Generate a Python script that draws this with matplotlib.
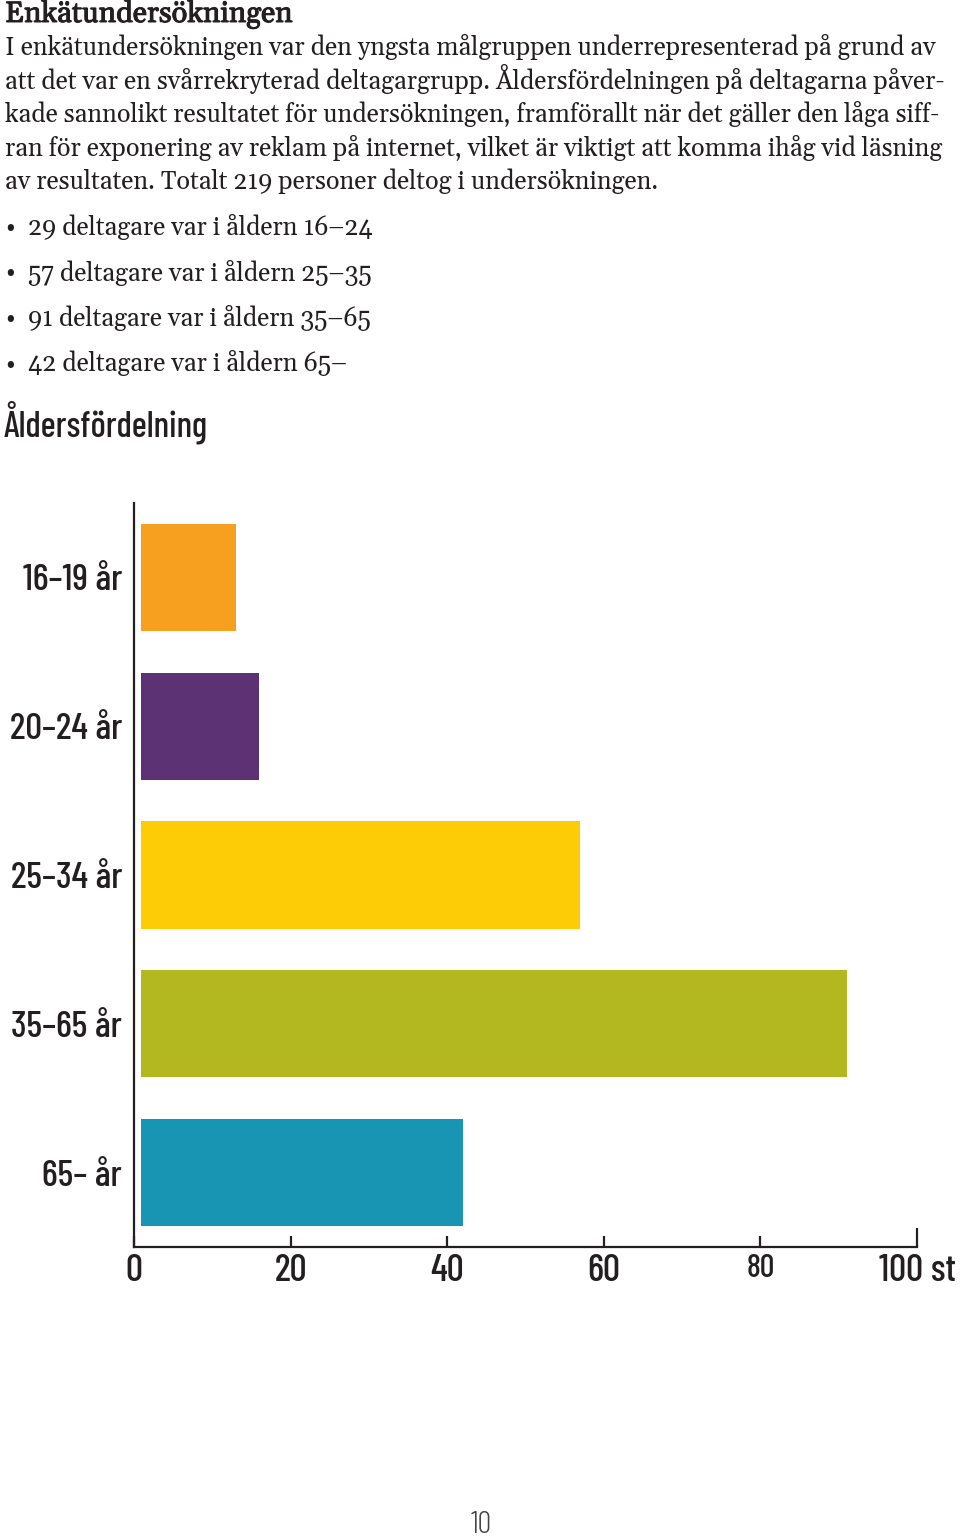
import matplotlib
matplotlib.use("Agg")
import matplotlib.pyplot as plt
import matplotlib.font_manager as fm
import matplotlib.patheffects as pe
import numpy as np
import os

# data
categories = ["16–19 år", "20–24 år", "25–34 år", "35–65 år", "65– år"]
counts = [13, 16, 57, 91, 42]
colors = ["#F7A020", "#5C3275", "#FECC07", "#B3B820", "#1895B3"]
xticks = [0, 20, 40, 60, 80, 100]
xticklabels = ["0", "20", "40", "60", "80", "100 st"]

title = "Enkätundersökningen"
body = [
    "I enkätundersökningen var den yngsta målgruppen underrepresenterad på grund av",
    "att det var en svårrekryterad deltagargrupp. Åldersfördelningen på deltagarna påver-",
    "kade sannolikt resultatet för undersökningen, framförallt när det gäller den låga siff-",
    "ran för exponering av reklam på internet, vilket är viktigt att komma ihåg vid läsning",
    "av resultaten. Totalt 219 personer deltog i undersökningen.",
]
bullets = [
    "29 deltagare var i åldern 16–24",
    "57 deltagare var i åldern 25–35",
    "91 deltagare var i åldern 35–65",
    "42 deltagare var i åldern 65–",
]
heading = "Åldersfördelning"
page = "10"

# fonts
files = {os.path.basename(f.fname): f.fname for f in fm.fontManager.ttflist}
names = {f.name for f in fm.fontManager.ttflist}


def font_file(name, fallback="DejaVu Sans"):
    if name in files:
        return fm.FontProperties(fname=files[name])
    return fm.FontProperties(family=fallback)


narrow = font_file("BarlowCondensed-Medium.ttf")
narrow_light = font_file("BarlowCondensed-Light.ttf")
serif = "Gelasio" if "Gelasio" in names else "DejaVu Serif"
ink = "#231f20"

bold_files = [b for b in files if b.lower().startswith("gelasio") and "bold" in b.lower()
              and "italic" not in b.lower()]
if bold_files:
    title_font = fm.FontProperties(fname=files[sorted(bold_files)[0]])
    title_fx = []
else:
    title_font = fm.FontProperties(family=serif)
    title_fx = [pe.withStroke(linewidth=0.7, foreground=ink)]

fig = plt.figure(figsize=(9.6, 15.36), dpi=100)
W, H = 960, 1536
renderer = fig.canvas.get_renderer()


def fy(px):
    return 1 - px / H


def width_at10(text, **kw):
    t = fig.text(0, 0, text, fontsize=10, **kw)
    w = t.get_window_extent(renderer).width
    t.remove()
    return w


def fit(texts, max_size, target_w, **kw):
    # font size that makes the widest text about target_w pixels wide
    w = max(width_at10(t, **kw) for t in texts)
    return min(max_size, 10 * target_w / w)


def fp(base, size):
    p = base.copy()
    p.set_size(size)
    return p


# text block
body_size = fit([body[0]], 20, 933, family=serif)
title_size = fit([title], 22, 287, fontproperties=title_font)
fig.text(5 / W, fy(22), title, fontproperties=fp(title_font, title_size), color=ink,
         va="baseline", path_effects=title_fx)
for i, line in enumerate(body):
    fig.text(5 / W, fy(55 + i * 33.6), line, family=serif, fontsize=body_size, color=ink, va="baseline")
for i, line in enumerate(bullets):
    y = fy(235 + i * 45.5)
    fig.text(5 / W, y, "•", family=serif, fontsize=body_size, color=ink, va="baseline")
    fig.text(28 / W, y, line, family=serif, fontsize=body_size, color=ink, va="baseline")

head_size = fit([heading], 35, 204, fontproperties=narrow)
fig.text(4 / W, fy(437), heading, fontproperties=fp(narrow, head_size), color=ink, va="baseline")
page_size = fit([page], 22, 21, fontproperties=narrow_light)
fig.text(481 / W, fy(1533), page, fontproperties=fp(narrow_light, page_size), color="#444444",
         ha="center", va="baseline")

# chart
ax = fig.add_axes([134 / W, 1 - 1247 / H, 783 / W, 744 / H])
gap = 0.9
y = np.arange(len(categories))
vals = np.array(counts, dtype=float)
ax.barh(y, vals - gap, left=gap, height=0.72, color=colors)
ax.set_xlim(0, 100)
ax.set_ylim(len(categories) - 0.5, -0.5)

for s in ["top", "right"]:
    ax.spines[s].set_visible(False)
for s in ["left", "bottom"]:
    ax.spines[s].set_linewidth(1.6)
    ax.spines[s].set_color(ink)

label_size = fit(categories, 35, 113, fontproperties=narrow)
ax.set_yticks(y)
ax.set_yticklabels(categories, fontproperties=fp(narrow, label_size), color=ink)
ax.tick_params(axis="y", length=0, pad=8.6)

tick_size = fit([xticklabels[-1]], 35, 77, fontproperties=narrow)
ax.set_xticks(xticks)
ax.set_xticklabels(xticklabels, fontproperties=fp(narrow, tick_size), color=ink)
ax.tick_params(axis="x", direction="in", length=8, width=1.6, color=ink, pad=5)
ax.get_xticklabels()[4].set_fontsize(tick_size * 0.85)
ax.xaxis.get_major_ticks()[-1].tick1line.set_markersize(14)

fig.savefig("out.png", dpi=100)
